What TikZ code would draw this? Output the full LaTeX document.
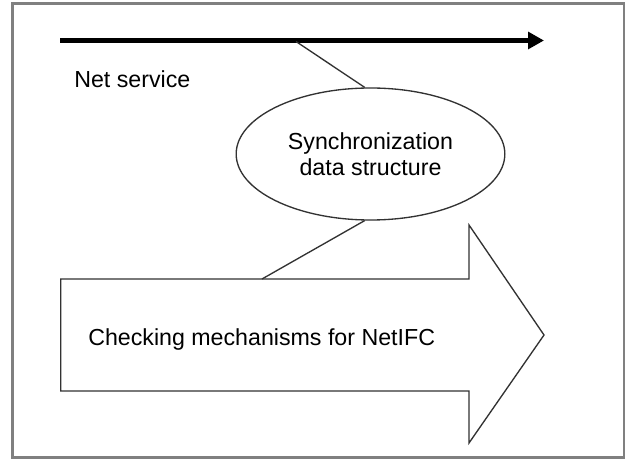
\documentclass[tikz,border=0pt]{standalone}
\usepackage{fontspec}
\setmainfont{Liberation Sans}
\usetikzlibrary{arrows.meta,shapes.geometric}
\definecolor{framegray}{RGB}{128,128,128}
\definecolor{edgegray}{RGB}{50,50,50}
\tikzset{
  frame/.style={draw=framegray,line width=1.6pt},
  flowline/.style={line width=3.4pt,-{Triangle[length=12pt,width=12.5pt]}},
  link/.style={draw=edgegray,line width=1pt},
  outline/.style={draw=edgegray,line width=1pt,fill=white},
  label/.style={inner sep=0pt,font=\fontsize{17.4}{19.5}\selectfont}
}
\begin{document}
\begin{tikzpicture}[x=0.75pt,y=-0.75pt]
  \useasboundingbox (0,0) rectangle (627,459);
  \fill[white] (0,0) rectangle (627,459);
  \draw[frame] (12.5,3.5) rectangle (624,457.5);

  % net service flow
  \coordinate (flowstart) at (60,40.5);
  \coordinate (flowend) at (544,40.5);
  \draw[flowline] (flowstart) -- (flowend);
  \node[label,anchor=base west] (netlabel) at (74,88) {Net service};
  \coordinate (tap) at (296,41.5);

  % synchronization data structure
  \node[ellipse,outline,minimum width=201.5pt,minimum height=99pt,inner sep=0pt,
        align=center,font=\fontsize{17.4}{19.5}\selectfont] (sync) at (370.5,154)
        {Synchronization\\data structure};

  % checking mechanism block arrow
  \draw[outline] (60.7,279) -- (469,279) -- (469,225) -- (544,335)
                 -- (469,443) -- (469,391) -- (60.7,391) -- cycle;
  \node[label,anchor=base west] (check) at (88,345) {Checking mechanisms for NetIFC};
  \coordinate (dock) at (262,279);

  % links
  \draw[link] (tap) -- (sync.95);
  \draw[link] (sync.265) -- (dock);
\end{tikzpicture}
\end{document}
